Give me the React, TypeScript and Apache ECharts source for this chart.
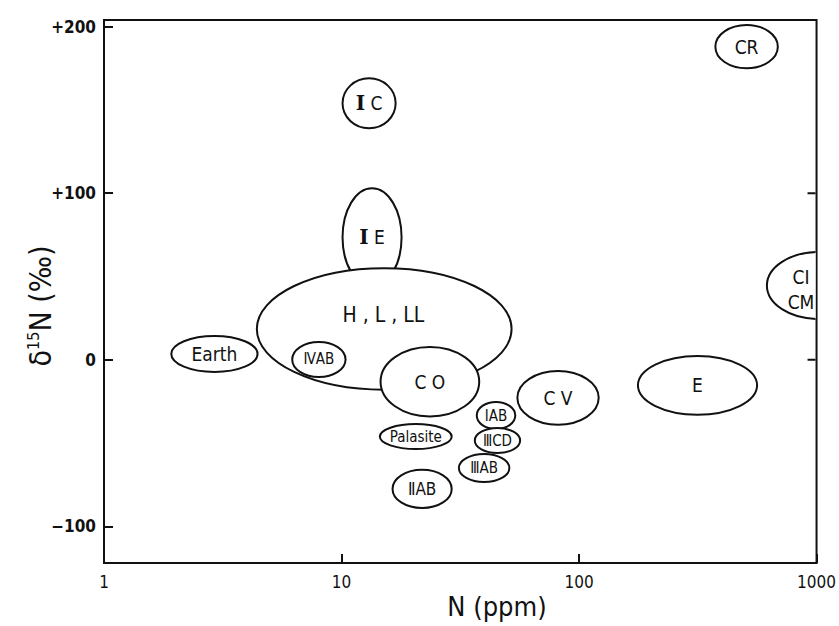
import React, { useEffect, useRef } from "react";
import * as echarts from "echarts";

// Meteorite groups: extent of each field in N (ppm) and δ15N (‰)
const groupNames = ["IE", "H , L , LL", "IC", "Earth", "ⅣAB", "C O", "Palasite", "IAB", "ⅢCD", "ⅢAB", "ⅡAB", "C V", "E", "CR", "CI\nCM"];
const nMin = [10.1, 4.4, 10.1, 1.92, 6.2, 14.6, 14.5, 37.1, 36.4, 31.2, 16.4, 55, 177, 375, 618];
const nMax = [17.9, 52, 16.9, 4.43, 10.4, 38, 29.1, 53.9, 56.5, 50.9, 29.1, 121, 562, 687, 1680];
const dMin = [44, -18, 139, -7.3, -10.3, -34, -53.6, -41.6, -56, -73.4, -89, -39, -33, 175, 24.5];
const dMax = [103, 55, 169, 14.3, 10.7, 7.7, -38.6, -25.3, -41, -56.6, -66, -6.7, 2.3, 201, 64.7];
// label anchor (null = centre of the field)
const labelN: (number | null)[] = [null, 15, null, null, null, null, null, null, null, null, null, null, null, null, 860];
const labelD: (number | null)[] = [null, 27, null, null, null, null, null, null, null, null, null, null, null, null, 42];

const yTicks = [-100, 0, 100, 200];
const yRightTicks = [0, 100];
const xMaxValue = 1000;

const FONT = '"Liberation Sans Narrow", "DejaVu Sans Condensed", "Liberation Sans", sans-serif';
const INK = "#111";

const labelSize: Record<string, number> = {
  "ⅣAB": 15, Palasite: 15, IAB: 15, "ⅢCD": 15, "ⅢAB": 15, "ⅡAB": 17, "H , L , LL": 21,
};

export default function App() {
  const ref = useRef<HTMLDivElement>(null);
  useEffect(() => {
    if (!ref.current) return;
    const chart = echarts.init(ref.current, null, { renderer: "svg" });
    const data = groupNames.map((_, i) => [nMin[i], nMax[i], dMin[i], dMax[i]]);
    chart.setOption({
      animation: false,
      backgroundColor: "#fff",
      grid: { left: 104, right: 16, top: 20, bottom: 63, show: true, borderColor: INK, borderWidth: 2 },
      graphic: [
        {
          type: "text",
          x: 40,
          y: 306,
          rotation: Math.PI / 2,
          style: {
            text: "{a|δ}{s|15}{a|N (‰)}",
            align: "center",
            verticalAlign: "middle",
            fill: INK,
            rich: {
              a: { fontSize: 30, fill: INK, fontFamily: FONT },
              s: { fontSize: 16, fill: INK, fontFamily: FONT, verticalAlign: "top", padding: [0, 0, 14, 0] },
            },
          },
        },
        {
          type: "text",
          x: 497,
          y: 606,
          style: { text: "N (ppm)", align: "center", verticalAlign: "middle", fontSize: 27, fontFamily: FONT, fill: INK },
        },
      ],
      xAxis: {
        type: "log",
        logBase: 10,
        min: 1,
        max: xMaxValue,
        axisLine: { show: false, onZero: false },
        splitLine: { show: false },
        minorTick: { show: false },
        axisTick: { show: true, inside: true, length: 9, lineStyle: { color: INK, width: 2 } },
        axisLabel: { color: INK, fontSize: 17, fontFamily: FONT, margin: 10, formatter: (v: number) => String(v) },
      },
      yAxis: {
        type: "value",
        min: -122,
        max: 204,
        axisLine: { show: false, onZero: false },
        splitLine: { show: false },
        axisTick: { show: true, inside: true, length: 9, lineStyle: { color: INK, width: 2 }, customValues: yTicks },
        axisLabel: {
          color: INK,
          fontSize: 17,
          fontWeight: "bold",
          fontFamily: FONT,
          margin: 8,
          customValues: yTicks,
          formatter: (v: number) => (v > 0 ? "+" + v : v < 0 ? "−" + Math.abs(v) : "0"),
        },
      },
      series: [
        {
          type: "custom",
          coordinateSystem: "cartesian2d",
          encode: { x: [0, 1], y: [2, 3] },
          z: 1,
          data,
          renderItem: (params: any, api: any) => {
            const i = params.dataIndex;
            const p1 = api.coord([api.value(0), api.value(2)]);
            const p2 = api.coord([api.value(1), api.value(3)]);
            const cx = (p1[0] + p2[0]) / 2;
            const cy = (p1[1] + p2[1]) / 2;
            const rx = Math.abs(p2[0] - p1[0]) / 2;
            const ry = Math.abs(p2[1] - p1[1]) / 2;
            let lx = cx, ly = cy;
            if (labelN[i] != null && labelD[i] != null) {
              const lp = api.coord([labelN[i], labelD[i]]);
              lx = lp[0];
              ly = lp[1];
            }
            const name = groupNames[i];
            const size = labelSize[name] ?? 19;
            const cs = params.coordSys;
            const isBoldI = name === "IC" || name === "IE";
            const textStyle: any = isBoldI
              ? {
                  text: "{r|I}{n| " + name.slice(1) + "}",
                  rich: {
                    r: { fontSize: 20, fontWeight: "bold", fontFamily: '"DejaVu Serif", serif', fill: INK },
                    n: { fontSize: 19, fontFamily: FONT, fill: INK },
                  },
                }
              : { text: name, fontSize: size, fontFamily: FONT, lineHeight: 25 };
            const children: any[] = [
              {
                type: "ellipse",
                shape: { cx, cy, rx, ry },
                style: { fill: "#fff", stroke: INK, lineWidth: 2 },
              },
              {
                type: "text",
                style: { ...textStyle, x: lx, y: ly, align: "center", verticalAlign: "middle", fill: INK },
              },
            ];
            if (i === 0) {
              // inward ticks on the right-hand frame
              yRightTicks.forEach((v) => {
                const p = api.coord([xMaxValue, v]);
                children.push({
                  type: "line",
                  shape: { x1: p[0] - 9, y1: p[1], x2: p[0], y2: p[1] },
                  style: { stroke: INK, lineWidth: 2 },
                });
              });
            }
            return {
              type: "group",
              clipPath: { type: "rect", shape: { x: cs.x + 1, y: cs.y + 1, width: cs.width - 2, height: cs.height - 2 } },
              children,
            };
          },
        },
      ],
    });
    return () => chart.dispose();
  }, []);
  return <div ref={ref} style={{ position: "fixed", left: 0, top: 0, width: 839, height: 626 }} />;
}
